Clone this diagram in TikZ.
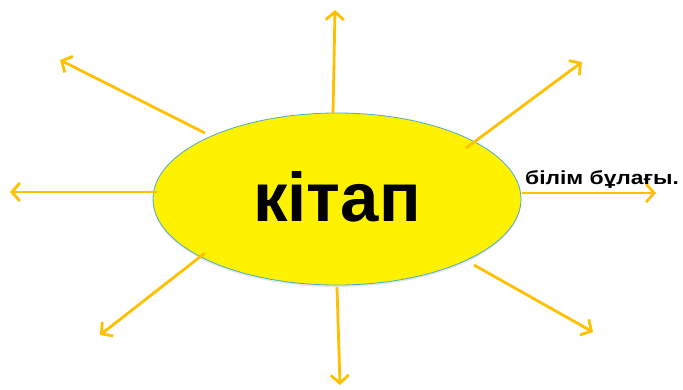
\documentclass[tikz,border=0pt]{standalone}
\usepackage{fontspec}
\setmainfont{Liberation Sans}
\usetikzlibrary{arrows.meta,shapes.geometric,shadows,positioning}
\definecolor{raycolor}{RGB}{255,192,0}
\definecolor{rimcolor}{RGB}{75,172,198}

\begin{document}
\begin{tikzpicture}[x=1pt,y=-1pt,>={Straight Barb[length=8pt,width=18pt]},
    ray/.style={->, draw=raycolor, line width=2.8pt},
    book/.style={ellipse, fill=yellow, draw=rimcolor, line width=0.8pt,
        minimum width=368pt, minimum height=172pt, inner sep=0pt,
        drop shadow={opacity=0.2, shadow xshift=0pt, shadow yshift=-2pt}}
]

    \useasboundingbox (0,0) rectangle (683,389);

    % the book in the middle
    \node[book] (book) at (337,199) {};
    \node[anchor=base, font=\bfseries\fontsize{69}{69}\selectfont] (word) at (337,221) {кітап};

    % start and end of every ray
    \coordinate (n0) at (333,113);  \coordinate (n1) at (335,10);
    \coordinate (nw0) at (205,133); \coordinate (nw1) at (60,60);
    \coordinate (w0) at (157,192);  \coordinate (w1) at (10,192);
    \coordinate (sw0) at (205,253); \coordinate (sw1) at (100,335);
    \coordinate (s0) at (337,287);  \coordinate (s1) at (340,385);
    \coordinate (se0) at (474,265); \coordinate (se1) at (593,332);
    \coordinate (e0) at (522,193);  \coordinate (e1) at (656,193);
    \coordinate (ne0) at (466,148); \coordinate (ne1) at (582,62);

    \foreach \r in {n,nw,w,sw,s,se,e,ne}
        \draw[ray] (\r0) -- (\r1);

    \node[anchor=base west, font=\bfseries\fontsize{19}{19}\selectfont, inner sep=0pt, xscale=1.2] (label) at (525,184) {білім бұлағы.};

\end{tikzpicture}
\end{document}
